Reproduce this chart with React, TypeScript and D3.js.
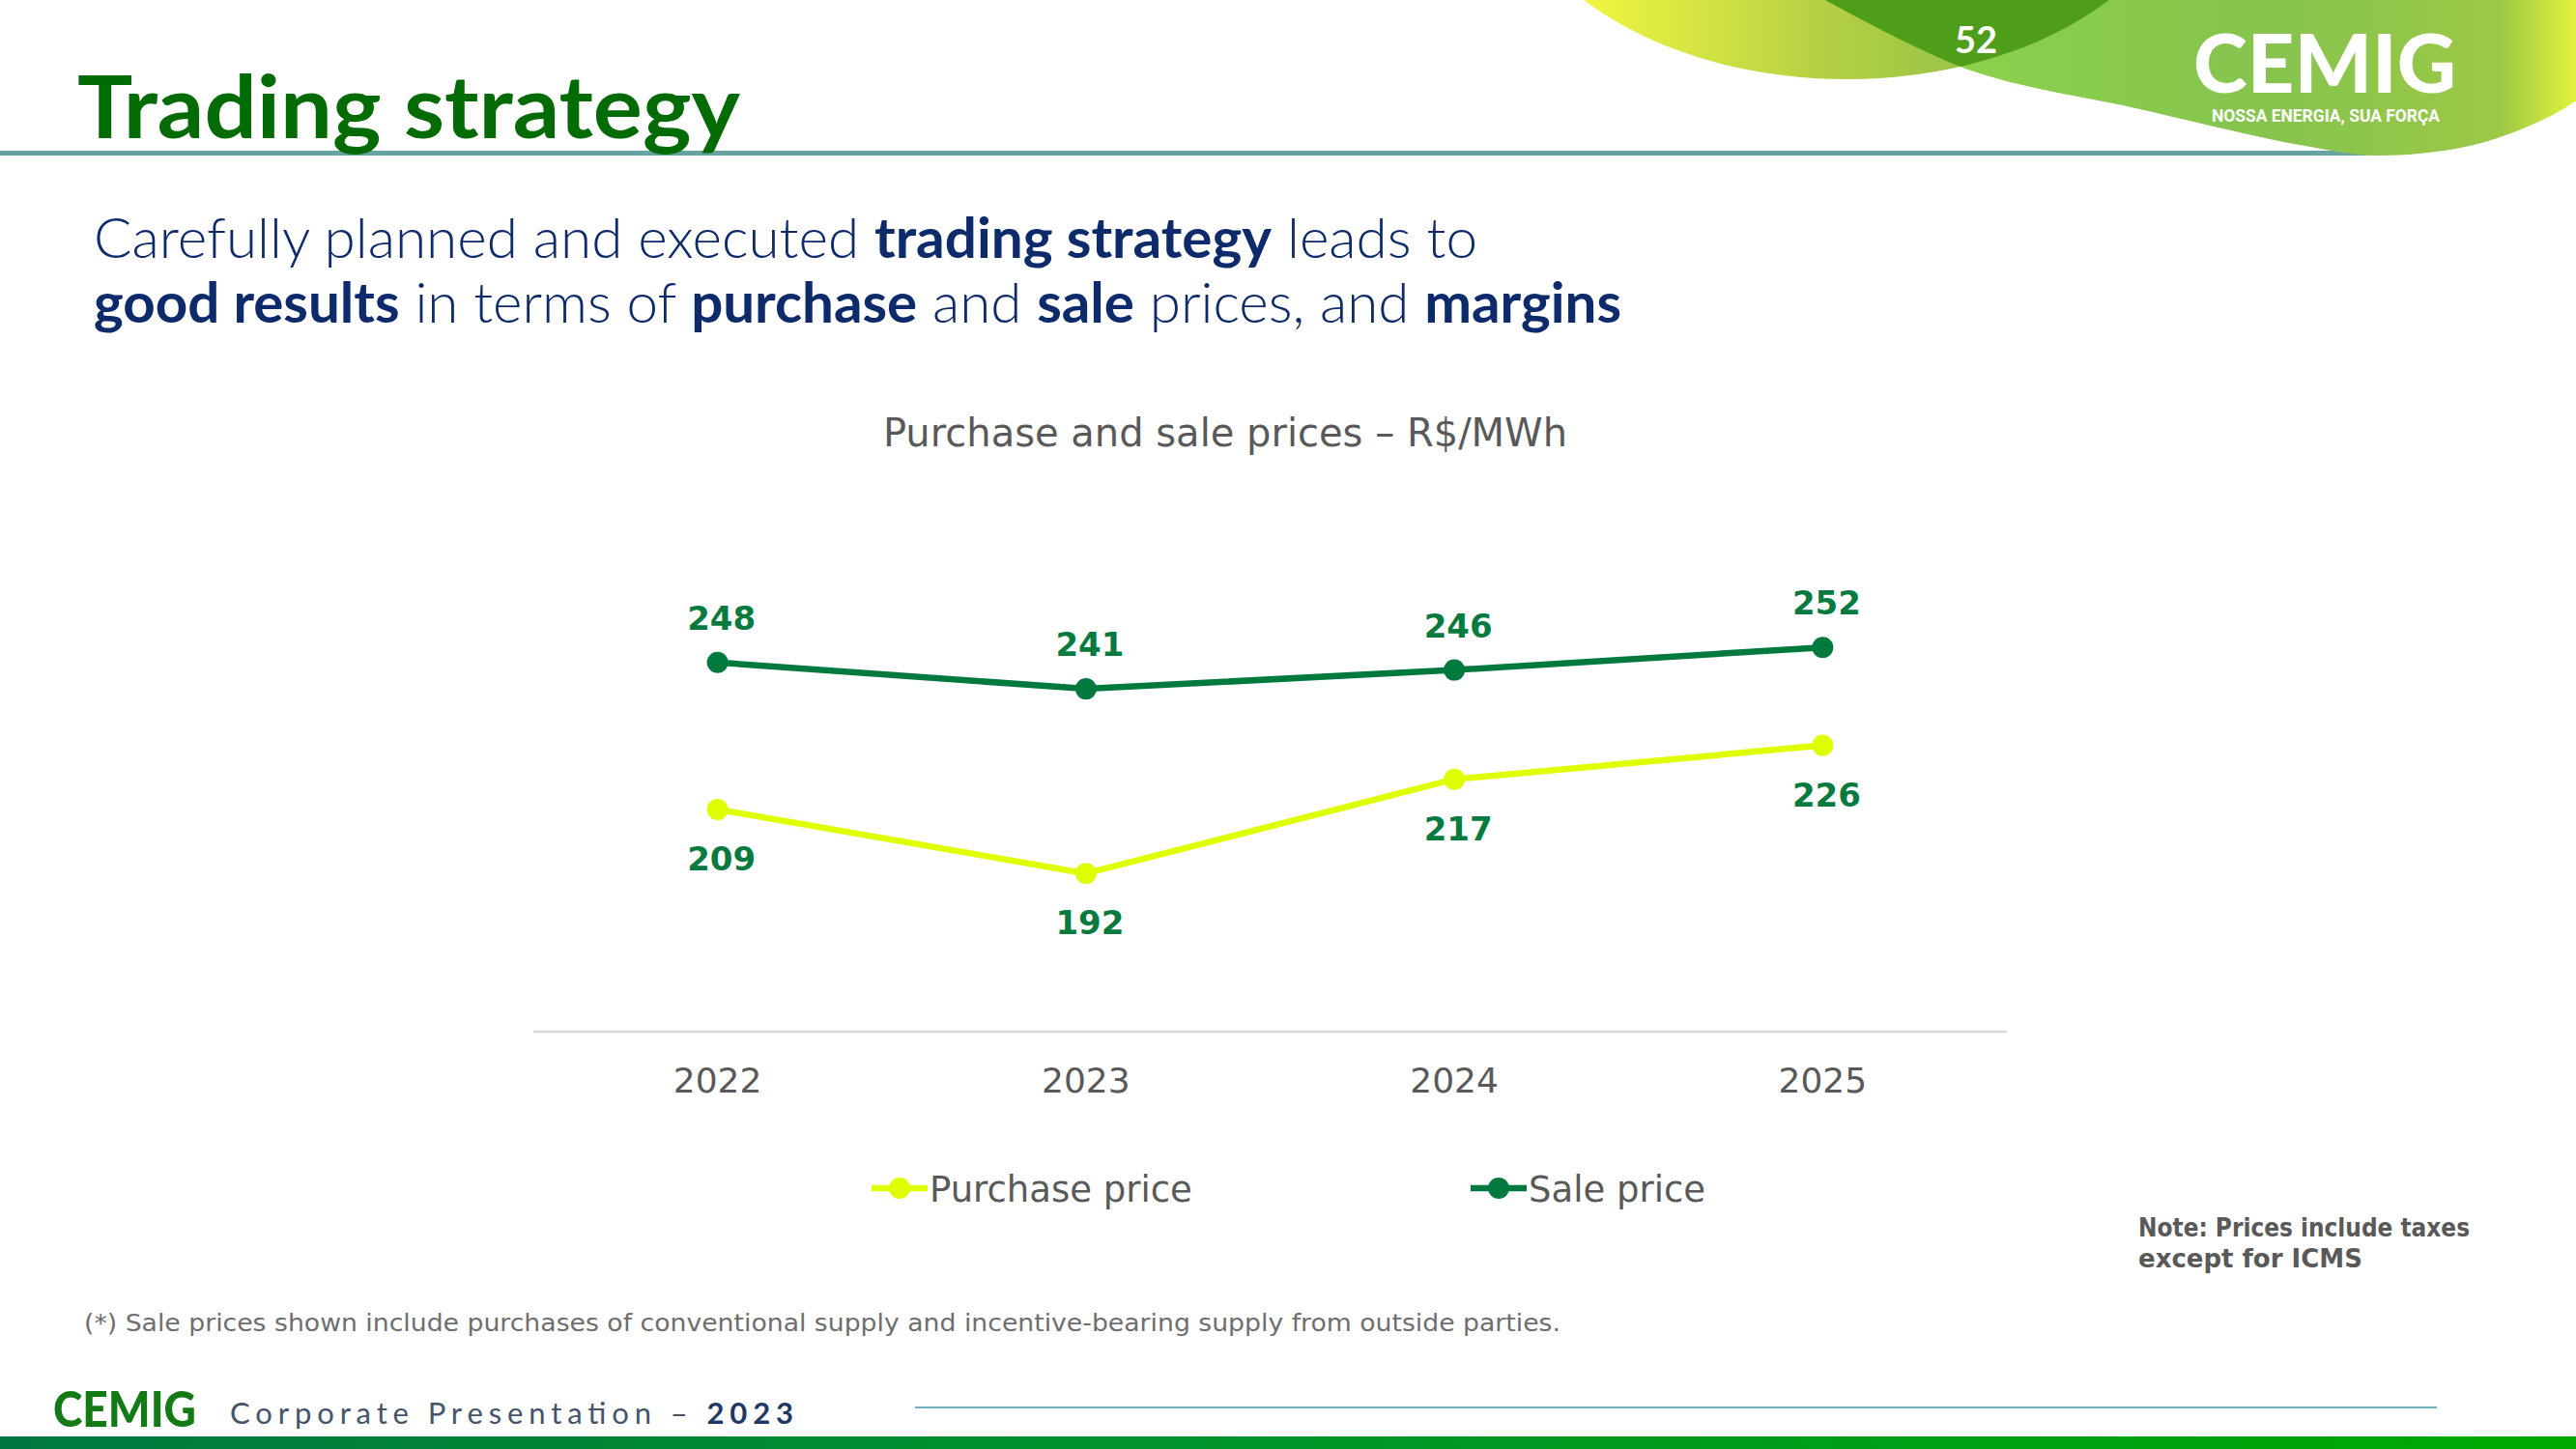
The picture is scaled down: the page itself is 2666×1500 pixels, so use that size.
import React from "react";
import * as d3 from "d3";

const years = ["2022", "2023", "2024", "2025"];
const purchasePrice = [209, 192, 217, 226];
const salePrice = [248, 241, 246, 252];
const seriesNames = ["Purchase price", "Sale price"];
const yDomain = [150, 270];

const W = 2666;
const H = 1500;
const SALE = "#00793F";
const PURCH = "#DFFF00";
const LABEL = "#077A40";
const GRAY = "#595959";
const NAVY = "#0D2A6B";
const CG = "'DejaVu Sans', sans-serif";

export default function App() {
  const x = d3.scalePoint<string>().domain(years).range([552, 2077]).padding(0.5);
  const y = d3.scaleLinear().domain(yDomain).range([1068, 600]);
  const line = d3
    .line<number>()
    .x((_, i) => x(years[i]) as number)
    .y((d) => y(d));

  const series = [
    { name: seriesNames[0], values: purchasePrice, color: PURCH, above: false },
    { name: seriesNames[1], values: salePrice, color: SALE, above: true },
  ];

  const blobB = d3.line().curve(d3.curveCatmullRom.alpha(0.5))([
    [1880, -5],
    [2037, 72],
    [2210, 112],
    [2380, 150],
    [2460, 161],
    [2560, 150],
    [2640, 120],
    [2680, 95],
  ]) as string;

  return (
    <svg
      width={W}
      height={H}
      style={{ position: "absolute", left: 0, top: 0, background: "#fff" }}
    >
      <defs>
        <linearGradient id="gA" x1="1640" x2="2180" y1="0" y2="0" gradientUnits="userSpaceOnUse">
          <stop offset="0" stopColor="#F0F640" />
          <stop offset="0.45" stopColor="#B6D044" />
          <stop offset="1" stopColor="#7DB84A" />
        </linearGradient>
        <linearGradient id="gB" x1="1880" x2="2666" y1="0" y2="0" gradientUnits="userSpaceOnUse">
          <stop offset="0" stopColor="#8ED64C" />
          <stop offset="0.6" stopColor="#86C44E" />
          <stop offset="0.9" stopColor="#9CC846" />
          <stop offset="1" stopColor="#E2F23C" />
        </linearGradient>
        <linearGradient id="gBar" x1="0" x2="2666" y1="0" y2="0" gradientUnits="userSpaceOnUse">
          <stop offset="0" stopColor="#00773F" />
          <stop offset="0.5" stopColor="#00962A" />
          <stop offset="1" stopColor="#00A800" />
        </linearGradient>
        <clipPath id="clipA">
          <ellipse cx={1911} cy={-150} rx={356} ry={232} />
        </clipPath>
      </defs>

      {/* header */}
      <rect x={0} y={156} width={2450} height={5} fill="#67A3A3" />
      <ellipse cx={1911} cy={-150} rx={356} ry={232} fill="url(#gA)" />
      <path d={`${blobB} L2680,-10 L1880,-10 Z`} fill="url(#gB)" />
      <path d={`${blobB} L2680,-10 L1880,-10 Z`} fill="#4E9E1A" clipPath="url(#clipA)" />
      <text x={2045} y={55} textAnchor="middle" fill="#fff" fontFamily="Lato, sans-serif" fontWeight={700} fontSize={38}>
        52
      </text>
      <text x={2270} y={96} fill="#fff" fontFamily="Lato, sans-serif" fontWeight={900} fontSize={84} textLength={272} lengthAdjust="spacingAndGlyphs">
        CEMIG
      </text>
      <text x={2289} y={126} fill="#fff" fontFamily="Roboto, sans-serif" fontWeight={700} fontSize={18} textLength={236} lengthAdjust="spacingAndGlyphs">
        NOSSA ENERGIA, SUA FORÇA
      </text>

      <text x={80} y={143} fill="#036B03" fontFamily="Lato, sans-serif" fontWeight={700} fontSize={90} textLength={686} lengthAdjust="spacingAndGlyphs">
        Trading strategy
      </text>

      {/* subtitle */}
      <text x={97} y={267} fill={NAVY} fontFamily="Lato, sans-serif" fontSize={57} textLength={1432} lengthAdjust="spacingAndGlyphs">
        <tspan fontWeight={300}>Carefully planned and executed </tspan>
        <tspan fontWeight={700}>trading strategy</tspan>
        <tspan fontWeight={300}> leads to</tspan>
      </text>
      <text x={97} y={334} fill={NAVY} fontFamily="Lato, sans-serif" fontSize={57} textLength={1581} lengthAdjust="spacingAndGlyphs">
        <tspan fontWeight={700}>good results</tspan>
        <tspan fontWeight={300}> in terms of </tspan>
        <tspan fontWeight={700}>purchase</tspan>
        <tspan fontWeight={300}> and </tspan>
        <tspan fontWeight={700}>sale</tspan>
        <tspan fontWeight={300}> prices, and </tspan>
        <tspan fontWeight={700}>margins</tspan>
      </text>

      {/* chart title */}
      <text x={1268} y={462} textAnchor="middle" fill={GRAY} fontFamily={CG} fontSize={40}>
        Purchase and sale prices – R$/MWh
      </text>

      {/* axis */}
      <line x1={552} x2={2077} y1={y(yDomain[0])} y2={y(yDomain[0])} stroke="#D9D9D9" strokeWidth={2.5} />
      {years.map((yr) => (
        <text key={yr} x={x(yr)} y={1131} textAnchor="middle" fill={GRAY} fontFamily={CG} fontSize={36}>
          {yr}
        </text>
      ))}

      {/* series */}
      {series.map((s) => (
        <g key={s.name}>
          <path d={line(s.values) as string} fill="none" stroke={s.color} strokeWidth={6.5} strokeLinejoin="round" />
          {s.values.map((v, i) => (
            <circle key={i} cx={x(years[i])} cy={y(v)} r={11} fill={s.color} />
          ))}
          {s.values.map((v, i) => (
            <text
              key={"l" + i}
              x={(x(years[i]) as number) + 4}
              y={y(v) + (s.above ? -34 : 63)}
              textAnchor="middle"
              fill={LABEL}
              fontFamily={CG}
              fontWeight={700}
              fontSize={34}
            >
              {v}
            </text>
          ))}
        </g>
      ))}

      {/* legend */}
      {series.map((s, i) => {
        const lx = i === 0 ? 902 : 1522;
        return (
          <g key={"lg" + s.name}>
            <line x1={lx} x2={lx + 58} y1={1230} y2={1230} stroke={s.color} strokeWidth={6.5} />
            <circle cx={lx + 29} cy={1230} r={11} fill={s.color} />
            <text x={lx + 60} y={1244} fill={GRAY} fontFamily={CG} fontSize={37}>
              {s.name}
            </text>
          </g>
        );
      })}

      {/* note */}
      <text x={2213} y={1280} fill={GRAY} fontFamily={CG} fontWeight={700} fontSize={26} textLength={343} lengthAdjust="spacingAndGlyphs">
        Note: Prices include taxes
      </text>
      <text x={2213} y={1312} fill={GRAY} fontFamily={CG} fontWeight={700} fontSize={26}>
        except for ICMS
      </text>

      {/* footnote */}
      <text x={87} y={1378} fill="#6E6E6E" fontFamily={CG} fontSize={25} textLength={1528} lengthAdjust="spacingAndGlyphs">
        (*) Sale prices shown include purchases of conventional supply and incentive-bearing supply from outside parties.
      </text>

      {/* footer */}
      <text x={55} y={1477} fill="#137A16" fontFamily="Lato, sans-serif" fontWeight={900} fontSize={51} textLength={148} lengthAdjust="spacingAndGlyphs">
        CEMIG
      </text>
      <text x={238} y={1474} fill="#44546A" fontFamily="Lato, sans-serif" fontSize={31} textLength={583} lengthAdjust="spacing">
        <tspan fontWeight={400}>Corporate Presentation – </tspan>
        <tspan fontWeight={700} fill="#1F3864">2023</tspan>
      </text>
      <line x1={947} x2={2522} y1={1457} y2={1457} stroke="#6FB0BF" strokeWidth={2} />
      <rect x={0} y={1487} width={W} height={13} fill="url(#gBar)" />
    </svg>
  );
}
